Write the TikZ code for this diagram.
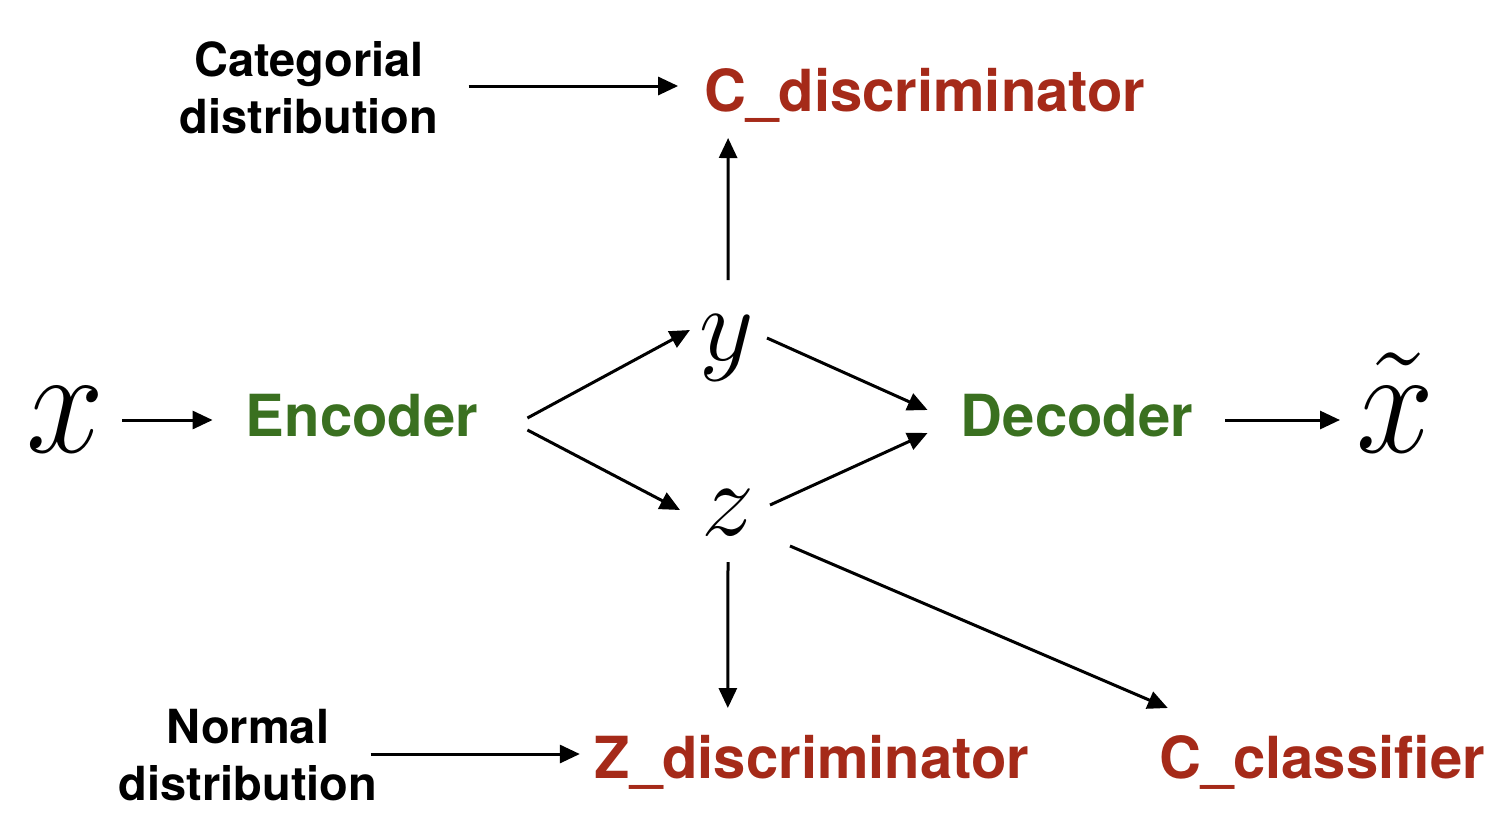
\RequirePackage{fix-cm}
\documentclass[tikz,border=0pt]{standalone}
\usepackage{fontspec}
\setmainfont{TeX Gyre Heros}
\usetikzlibrary{arrows.meta}
\definecolor{netgreen}{RGB}{58,112,32}
\definecolor{criticred}{RGB}{165,42,25}

\begin{document}
\begin{tikzpicture}[x=0.5pt, y=-0.5pt]
  % styles
  \tikzset{
    arr/.style={-{Triangle[length=10pt,width=9pt]}, line width=1.5pt},
    net/.style={font=\bfseries\fontsize{29}{35}\selectfont, text=netgreen, inner sep=0pt, anchor=base},
    critic/.style={net, text=criticred},
    prior/.style={font=\bfseries\fontsize{23.5}{28.5}\selectfont, align=center, inner sep=0pt},
    var/.style={font=\fontsize{76}{84}\selectfont, inner sep=0pt, anchor=base},
    code/.style={var, font=\fontsize{53}{60}\selectfont}
  }
  \useasboundingbox (0,0) rectangle (1504,836);
  % input, encoder, latent codes, decoder, output
  \node[var] (xin) at (65,452) {\scalebox{0.92}[1]{$x$}};
  \node[net] (enc) at (362,436) {Encoder};
  \node[code] (yv) at (727,360) {$y$};
  \node[code] (zv) at (728,535) {$z$};
  \node[net] (dec) at (1077,436) {Decoder};
  \node[var] (xout) at (1395,452) {\scalebox{0.92}[1]{$\tilde{x}$}};
  % adversarial parts
  \node[critic] (cdisc) at (925,111) {C\_discriminator};
  \node[critic] (zdisc) at (812,778) {Z\_discriminator};
  \node[critic] (cclass) at (1322,778) {C\_classifier};
  \node[prior] (cat) at (309,88) {Categorial\\distribution};
  \node[prior] (norm) at (248,755) {Normal\\distribution};
  % arrows
  \draw[arr] ([shift={(57,-32)}]xin.base) -- ([shift={(-33,-16)}]enc.base west);
  \draw[arr] ([shift={(49,-18)}]enc.base east) -- ([shift={(-37,-30)}]yv.base);
  \draw[arr] ([shift={(49,-6)}]enc.base east) -- ([shift={(-48,-25)}]zv.base);
  \draw[arr] ([shift={(1,-80)}]yv.base) -- ([shift={(24,27)}]cdisc.base west);
  \draw[arr] ([shift={(30,-2)}]cat.east) -- ([shift={(-26,-25)}]cdisc.base west);
  \draw[arr] ([shift={(40,-22)}]yv.base) -- ([shift={(-33,-26)}]dec.base west);
  \draw[arr] ([shift={(42,-30)}]zv.base) -- ([shift={(-33,-3)}]dec.base west);
  \draw[arr] ([shift={(32,-16)}]dec.base east) -- ([shift={(-55,-32)}]xout.base);
  \draw[arr] ([shift={(0,27)}]zv.base) -- ([shift={(133.5,-70)}]zdisc.base west);
  \draw[arr] ([shift={(-7,-1)}]norm.east) -- ([shift={(-14.5,-24)}]zdisc.base west);
  \draw[arr] ([shift={(62,11)}]zv.base) -- ([shift={(9,-70)}]cclass.base west);
\end{tikzpicture}
\end{document}
